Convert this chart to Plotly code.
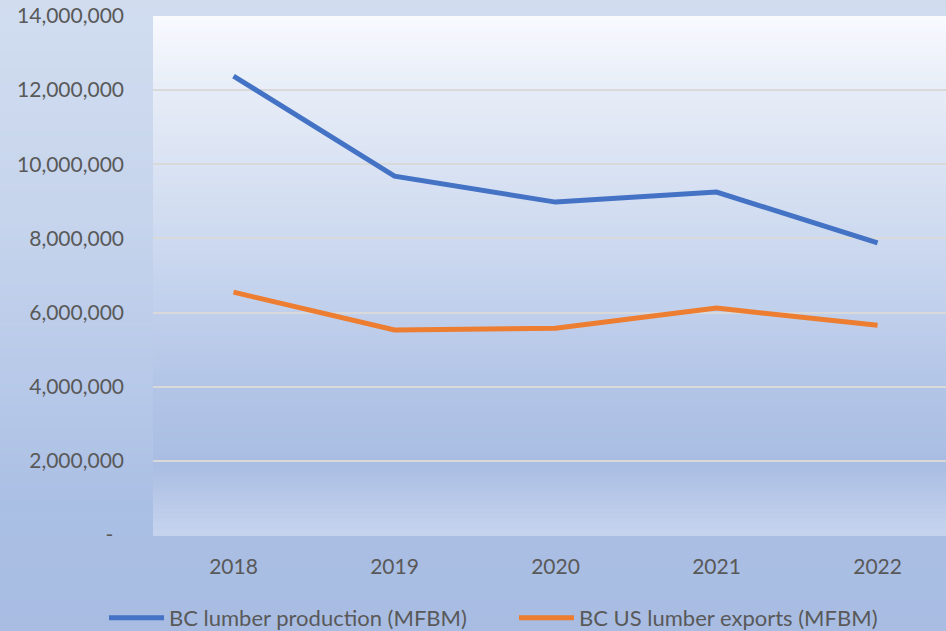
import plotly.graph_objects as go

years = ["2018", "2019", "2020", "2021", "2022"]
production = [12380000, 9680000, 8980000, 9250000, 7880000]
exports = [6550000, 5530000, 5580000, 6120000, 5660000]
ytick_vals = [0, 2000000, 4000000, 6000000, 8000000, 10000000, 12000000, 14000000]
ytick_text = ["-  ", "2,000,000", "4,000,000", "6,000,000", "8,000,000", "10,000,000", "12,000,000", "14,000,000"]

W, H = 946, 631
ML, MT, MB, MR = 153, 16, 96, 0
pw, ph = W - ML - MR, H - MT - MB


def hex2rgb(h):
    h = h.lstrip("#")
    return tuple(int(h[i:i + 2], 16) for i in (0, 2, 4))


def interp(stops, t):
    for (t0, c0), (t1, c1) in zip(stops, stops[1:]):
        if t0 <= t <= t1:
            f = 0 if t1 == t0 else (t - t0) / (t1 - t0)
            a, b = hex2rgb(c0), hex2rgb(c1)
            return "rgb(%d,%d,%d)" % tuple(round(a[i] + (b[i] - a[i]) * f) for i in range(3))
    return stops[-1][1]


outer_stops = [(0, "#d1ddef"), (0.35, "#c6d4ec"), (0.65, "#b5c7e8"), (0.8, "#aabfe4"), (1, "#a9bde3")]
plot_stops = [(0, "#f8fafe"), (0.15, "#e6ecf7"), (0.45, "#cbd8ef"), (0.7, "#b4c6e7"), (0.86, "#a9bde3"), (1.0, "#c6d4ed")]

shapes = []
n = 120
x0p, x1p = -ML / pw, 1 + MR / pw
for i in range(n):
    ya = H * i / n
    yb = H * (i + 1) / n + 0.5
    t = (i + 0.5) / n
    shapes.append(dict(type="rect", xref="paper", yref="paper", layer="below",
                       x0=x0p, x1=x1p,
                       y0=1 - (yb - MT) / ph, y1=1 - (ya - MT) / ph,
                       line=dict(width=0), fillcolor=interp(outer_stops, t)))
for i in range(n):
    t = (i + 0.5) / n
    shapes.append(dict(type="rect", xref="paper", yref="paper", layer="below",
                       x0=0, x1=1, y0=1 - (i + 1) / n - 0.002, y1=1 - i / n,
                       line=dict(width=0), fillcolor=interp(plot_stops, t)))

fig = go.Figure()
fig.add_trace(go.Scatter(x=years, y=production, mode="lines", name="BC lumber production (MFBM)",
                         line=dict(color="#4472c4", width=5), legend="legend"))
fig.add_trace(go.Scatter(x=years, y=exports, mode="lines", name="BC US lumber exports (MFBM)",
                         line=dict(color="#ed7d31", width=5), legend="legend2"))

font_color = "#595959"
leg_common = dict(orientation="h", xanchor="left", y=-0.16, yanchor="middle",
                  bgcolor="rgba(0,0,0,0)", font=dict(size=22, color=font_color),
                  itemwidth=55, tracegroupgap=0)
fig.update_layout(
    width=W, height=H,
    margin=dict(l=ML, r=MR, t=MT, b=MB, autoexpand=False),
    paper_bgcolor="#bccbea",
    plot_bgcolor="rgba(0,0,0,0)",
    shapes=shapes,
    font=dict(family="Lato", size=21, color=font_color),
    xaxis=dict(type="category", range=[-0.5, 4.425], showgrid=False, zeroline=False,
               showline=False, ticks="", ticklabelstandoff=17,
               tickfont=dict(size=21, color=font_color)),
    yaxis=dict(range=[0, 14000000], tickvals=ytick_vals, ticktext=ytick_text,
               showgrid=True, gridcolor="#d9d9d9", gridwidth=1.5, zeroline=False,
               showline=False, ticks="", ticklabelstandoff=28,
               tickfont=dict(size=21, color=font_color)),
    showlegend=True,
    legend=dict(x=(104 - ML) / pw, **leg_common),
    legend2=dict(x=(514 - ML) / pw, **leg_common),
)

fig.write_html("out.html", config={"displayModeBar": False},
               post_script="document.body.style.margin='0';document.body.style.overflow='hidden';")
